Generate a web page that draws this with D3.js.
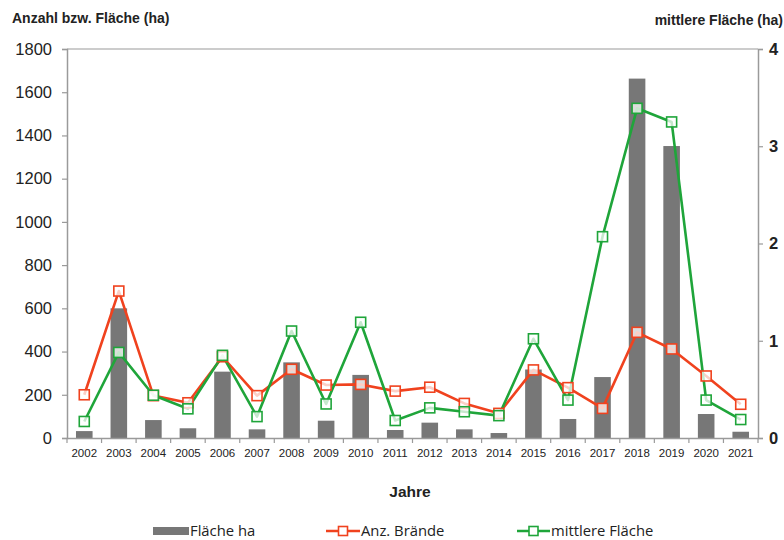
<!DOCTYPE html>
<html>
<head>
<meta charset="utf-8">
<script src="https://cdn.jsdelivr.net/npm/d3@7"></script>
<style>
  html, body { margin: 0; padding: 0; background: #fff; }
  svg { display: block; font-family: "Liberation Sans", Arial, sans-serif; }
</style>
</head>
<body>
<svg id="chart" width="784" height="540"></svg>
<script>
const years = ["2002","2003","2004","2005","2006","2007","2008","2009","2010","2011","2012","2013","2014","2015","2016","2017","2018","2019","2020","2021"];
const flaecheHa = [32, 600, 83, 45, 307, 40, 350, 80, 292, 37, 71, 40, 23, 317, 88, 282, 1663, 1351, 111, 29];
const anzBraende = [200, 680, 196, 163, 376, 196, 318, 245, 248, 217, 235, 160, 114, 315, 233, 137, 489, 412, 287, 156];
const mittlereFlaeche = [0.17, 0.88, 0.44, 0.30, 0.85, 0.22, 1.10, 0.35, 1.19, 0.18, 0.31, 0.27, 0.23, 1.02, 0.39, 2.07, 3.39, 3.25, 0.39, 0.19];
const leftTicks = [0, 200, 400, 600, 800, 1000, 1200, 1400, 1600, 1800];
const rightTicks = [0, 1, 2, 3, 4];

const svg = d3.select("#chart");
const L = 67, R = 758, T = 49, B = 438;
const axisColor = "#9a9a9a";
const barColor = "#777777";
const redColor = "#f0421e";
const greenColor = "#1fa53a";

const x = d3.scaleBand().domain(years).range([L, R]).paddingInner(0).paddingOuter(0);
const yL = d3.scaleLinear().domain([0, 1800]).range([B, T]);
const yR = d3.scaleLinear().domain([0, 4]).range([B, T]);

// top border line
svg.append("line").attr("x1", L).attr("x2", R).attr("y1", T).attr("y2", T)
  .attr("stroke", axisColor).attr("stroke-width", 1.2);

// bars
const bw = x.bandwidth() * 0.48;
svg.append("g").selectAll("rect").data(years).join("rect")
  .attr("x", d => x(d) + x.bandwidth() / 2 - bw / 2)
  .attr("width", bw)
  .attr("y", (d, i) => yL(flaecheHa[i]))
  .attr("height", (d, i) => B - yL(flaecheHa[i]))
  .attr("fill", barColor);

// left axis
const gL = svg.append("g").attr("transform", `translate(${L},0)`)
  .call(d3.axisLeft(yL).tickValues(leftTicks).tickSize(5).tickPadding(10).tickFormat(d3.format("d")));
gL.select(".domain").attr("stroke", axisColor).attr("stroke-width", 1.5);
gL.selectAll(".tick line").attr("stroke", axisColor).attr("stroke-width", 1.2);
gL.selectAll(".tick text").attr("font-size", 16.5).attr("fill", "#222").attr("font-family", "Liberation Sans, Arial, sans-serif");

// right axis
const gR = svg.append("g").attr("transform", `translate(${R},0)`)
  .call(d3.axisRight(yR).tickValues(rightTicks).tickSize(5).tickPadding(6).tickFormat(d3.format("d")));
gR.select(".domain").attr("stroke", axisColor).attr("stroke-width", 1.5);
gR.selectAll(".tick line").attr("stroke", axisColor).attr("stroke-width", 1.2);
gR.selectAll(".tick text").attr("font-size", 16.5).attr("font-weight", "bold").attr("fill", "#222").attr("font-family", "Liberation Sans, Arial, sans-serif");

// bottom axis
const gB = svg.append("g").attr("transform", `translate(0,${B})`)
  .call(d3.axisBottom(x).tickSize(0).tickPadding(11));
gB.select(".domain").attr("stroke", axisColor).attr("stroke-width", 1.5);
gB.selectAll(".tick text").attr("font-size", 11.5).attr("fill", "#222").attr("font-family", "Liberation Sans, Arial, sans-serif");
// category boundary ticks
const bounds = years.map(d => x(d)).concat([R]);
gB.append("g").selectAll("line").data(bounds).join("line")
  .attr("x1", d => d).attr("x2", d => d).attr("y1", 0).attr("y2", 5)
  .attr("stroke", axisColor).attr("stroke-width", 1.2);

// lines
const cx = d => x(d) + x.bandwidth() / 2;
const lineRed = d3.line().x((d, i) => cx(years[i])).y(d => yL(d));
const lineGreen = d3.line().x((d, i) => cx(years[i])).y(d => yR(d));

svg.append("path").datum(anzBraende).attr("d", lineRed)
  .attr("fill", "none").attr("stroke", redColor).attr("stroke-width", 2.6).attr("stroke-linejoin", "round");
svg.append("path").datum(mittlereFlaeche).attr("d", lineGreen)
  .attr("fill", "none").attr("stroke", greenColor).attr("stroke-width", 2.6).attr("stroke-linejoin", "round");

const ms = 10;
svg.append("g").selectAll("rect").data(anzBraende).join("rect")
  .attr("x", (d, i) => cx(years[i]) - ms / 2).attr("y", d => yL(d) - ms / 2)
  .attr("width", ms).attr("height", ms)
  .attr("fill", "#fff").attr("fill-opacity", 0.75).attr("stroke", redColor).attr("stroke-width", 1.6);
svg.append("g").selectAll("rect").data(mittlereFlaeche).join("rect")
  .attr("x", (d, i) => cx(years[i]) - ms / 2).attr("y", d => yR(d) - ms / 2)
  .attr("width", ms).attr("height", ms)
  .attr("fill", "#fff").attr("fill-opacity", 0.75).attr("stroke", greenColor).attr("stroke-width", 1.6);

// axis titles
svg.append("text").attr("x", 12).attr("y", 23).text("Anzahl bzw. Fläche (ha)")
  .attr("font-size", 14).attr("font-weight", "bold").attr("fill", "#222");
svg.append("text").attr("x", 783).attr("y", 25).attr("text-anchor", "end").text("mittlere Fläche (ha)")
  .attr("font-size", 14).attr("font-weight", "bold").attr("fill", "#222");
svg.append("text").attr("x", 410).attr("y", 497).attr("text-anchor", "middle").text("Jahre")
  .attr("font-size", 15.5).attr("font-weight", "bold").attr("fill", "#222");

// legend
const lg = svg.append("g").attr("font-size", 14.8).attr("fill", "#222").attr("font-family", "Open Sans, Liberation Sans, Arial, sans-serif");
lg.append("rect").attr("x", 153).attr("y", 527).attr("width", 36).attr("height", 8).attr("fill", barColor);
lg.append("text").attr("x", 190).attr("y", 535.5).text("Fläche ha").attr("fill", "#222");
lg.append("line").attr("x1", 326).attr("x2", 360).attr("y1", 531).attr("y2", 531).attr("stroke", redColor).attr("stroke-width", 2.6);
lg.append("rect").attr("x", 338.5).attr("y", 526.5).attr("width", 9).attr("height", 9).attr("fill", "#fff").attr("stroke", redColor).attr("stroke-width", 1.6);
lg.append("text").attr("x", 361).attr("y", 535.5).text("Anz. Brände").attr("fill", "#222");
lg.append("line").attr("x1", 517).attr("x2", 550).attr("y1", 531).attr("y2", 531).attr("stroke", greenColor).attr("stroke-width", 2.6);
lg.append("rect").attr("x", 529).attr("y", 526.5).attr("width", 9).attr("height", 9).attr("fill", "#fff").attr("stroke", greenColor).attr("stroke-width", 1.6);
lg.append("text").attr("x", 551).attr("y", 535.5).text("mittlere Fläche").attr("fill", "#222");
</script>
</body>
</html>
